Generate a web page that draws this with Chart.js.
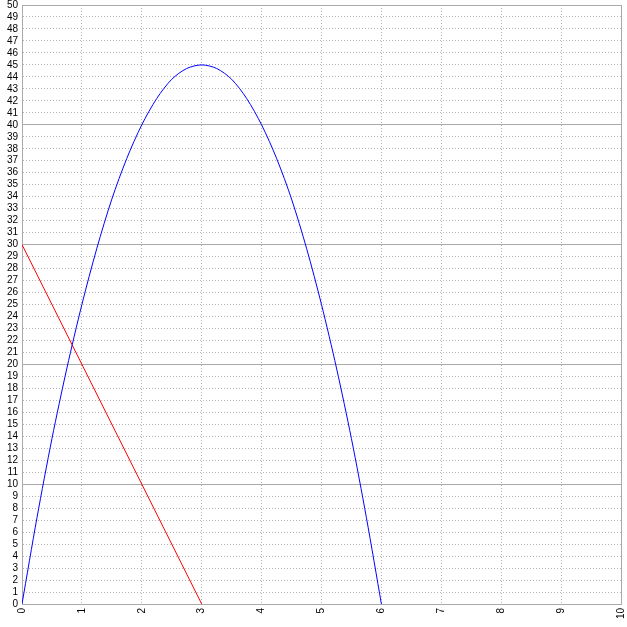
<!DOCTYPE html>
<html>
<head>
<meta charset="utf-8">
<script src="https://cdn.jsdelivr.net/npm/chart.js@4/dist/chart.umd.min.js"></script>
<style>
  html, body { margin: 0; padding: 0; background: #fff; }
  #wrap { width: 627px; height: 627px; }
</style>
</head>
<body>
<div id="wrap"><canvas id="plot"></canvas></div>
<script>
// values
var curveX = [0, 0.25, 0.5, 0.75, 1, 1.25, 1.5, 1.75, 2, 2.25, 2.5, 2.75, 3,
              3.25, 3.5, 3.75, 4, 4.25, 4.5, 4.75, 5, 5.25, 5.5, 5.75, 6];
var curveY = [0, 7.2, 13.8, 19.7, 25, 29.7, 33.8, 37.2, 40, 42.2, 43.8, 44.7, 45,
              44.7, 43.8, 42.2, 40, 37.2, 33.8, 29.7, 25, 19.7, 13.8, 7.2, 0];
var lineX = [0, 3];
var lineY = [30, 0];
var xMin = 0, xMax = 10;
var yMin = 0, yMax = 50;

function toPoints(xs, ys) {
    return xs.map(function(x, i) { return { x: x, y: ys[i] }; });
}

var tickFont = { family: 'Liberation Sans', size: 10 };

new Chart(document.getElementById('plot').getContext('2d'), {
    type: 'scatter',
    data: {
        datasets: [
            {
                data: toPoints(curveX, curveY),
                showLine: true,
                borderColor: '#0000ff',
                borderWidth: 1,
                pointRadius: 0,
                tension: 0.3
            },
            {
                data: toPoints(lineX, lineY),
                showLine: true,
                borderColor: '#ff0000',
                borderWidth: 1,
                pointRadius: 0
            }
        ]
    },
    options: {
        responsive: true,
        maintainAspectRatio: false,
        animation: false,
        layout: { padding: { top: 5, right: 6, left: 0, bottom: 0 } },
        plugins: { legend: { display: false }, tooltip: { enabled: false } },
        scales: {
            x: {
                type: 'linear',
                min: xMin, max: xMax,
                afterFit: function(s) { s.height = 23; s.paddingLeft = 0; s.paddingRight = 0; },
                ticks: {
                    stepSize: 1, autoSkip: false,
                    minRotation: 90, maxRotation: 90,
                    color: '#000', font: tickFont, padding: 4
                },
                grid: { color: '#b4b4b4', lineWidth: 1, drawTicks: false },
                border: { color: '#aaaaaa', dash: [1, 2] }
            },
            y: {
                min: yMin, max: yMax,
                afterFit: function(s) { s.width = 22; s.paddingTop = 0; s.paddingBottom = 0; },
                ticks: { stepSize: 1, autoSkip: false, color: '#000', font: tickFont, padding: 4 },
                grid: { color: '#b4b4b4', lineWidth: 1, drawTicks: false },
                border: { color: '#aaaaaa', dash: [1, 2] }
            },
            y2: {
                position: 'left',
                min: yMin, max: yMax,
                afterFit: function(s) { s.width = 0; s.paddingTop = 0; s.paddingBottom = 0; },
                ticks: { stepSize: 10, display: false },
                grid: { color: '#aaaaaa', lineWidth: 1, drawTicks: false },
                border: { display: false }
            },
            x2: {
                type: 'linear',
                position: 'top',
                min: xMin, max: xMax,
                afterFit: function(s) { s.height = 0; s.paddingLeft = 0; s.paddingRight = 0; },
                ticks: { stepSize: 10, display: false },
                grid: { color: '#aaaaaa', lineWidth: 1, drawTicks: false },
                border: { display: false }
            }
        }
    }
});
</script>
</body>
</html>
